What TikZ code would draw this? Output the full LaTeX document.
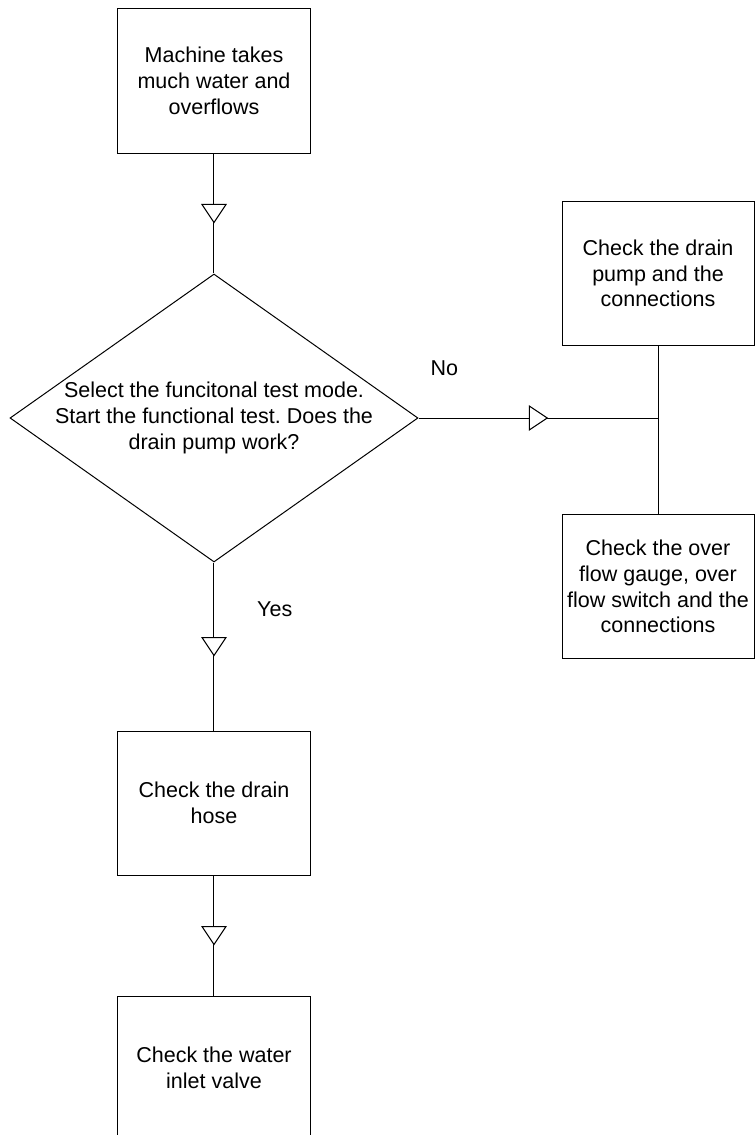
\documentclass[tikz,border=0pt]{standalone}
\usepackage{fontspec}
\setmainfont{Liberation Sans}
\frenchspacing
\usetikzlibrary{positioning,shapes.geometric,decorations.markings}
\tikzset{
    font={\fontsize{21.5pt}{25.7pt}\selectfont},
    box/.style={
        rectangle,
        draw=black, line width=1pt,
        minimum width=192pt,
        minimum height=144pt,
        align=center,
        inner sep=0pt
    },
    decision/.style={
        diamond,
        draw=black, line width=1pt,
        aspect=1.417,
        minimum width=408pt,
        minimum height=288pt,
        align=center,
        inner sep=-6pt
    },
    lbl/.style={inner sep=0pt},
    line/.style={draw, line width=1pt},
    midtri/.style={
        postaction={decorate},
        decoration={markings,
            mark=at position 0.5 with {\draw[line width=1pt, fill=white]
                (-9pt,12pt) -- (9pt,0pt) -- (-9pt,-12pt) -- cycle;}}
    },
}

\begin{document}
\begin{tikzpicture}
        % Fix the page to the size of the drawing
        \path[use as bounding box] (-214pt,81pt) rectangle (541pt,-1054pt);

        % Main column
        \node[box]                           (start)  {Machine takes\\ much water and\\ overflows};
        \node[decision, below=120pt of start] (decide) {Select the funcitonal test mode.\\ Start the functional test. Does the\\ drain pump work?};
        \node[box, below=168pt of decide]     (hose)   {Check the drain\\ hose};
        \node[box, below=120pt of hose]       (inlet)  {Check the water\\ inlet valve};

        % Branch on the right
        \coordinate[right=444pt of decide.center] (junc);
        \node[box, above=72pt of junc]  (pump)  {Check the drain\\ pump and the\\ connections};
        \node[box, below=96pt of junc]  (gauge) {Check the over\\ flow gauge, over\\ flow switch and the\\ connections};

        \node[lbl, above right=42pt and 12pt of decide.east]  (no)  {No};
        \node[lbl, below right=39pt and 43pt of decide.south] (yes) {Yes};

    \path[line, midtri] (start) -- (decide);
    \path[line, midtri] (decide) -- (hose);
    \path[line, midtri] (hose) -- (inlet);
    \path[line, midtri] (decide) -- (junc);
    \path[line] (pump) -- (gauge);

\end{tikzpicture}
\end{document}
